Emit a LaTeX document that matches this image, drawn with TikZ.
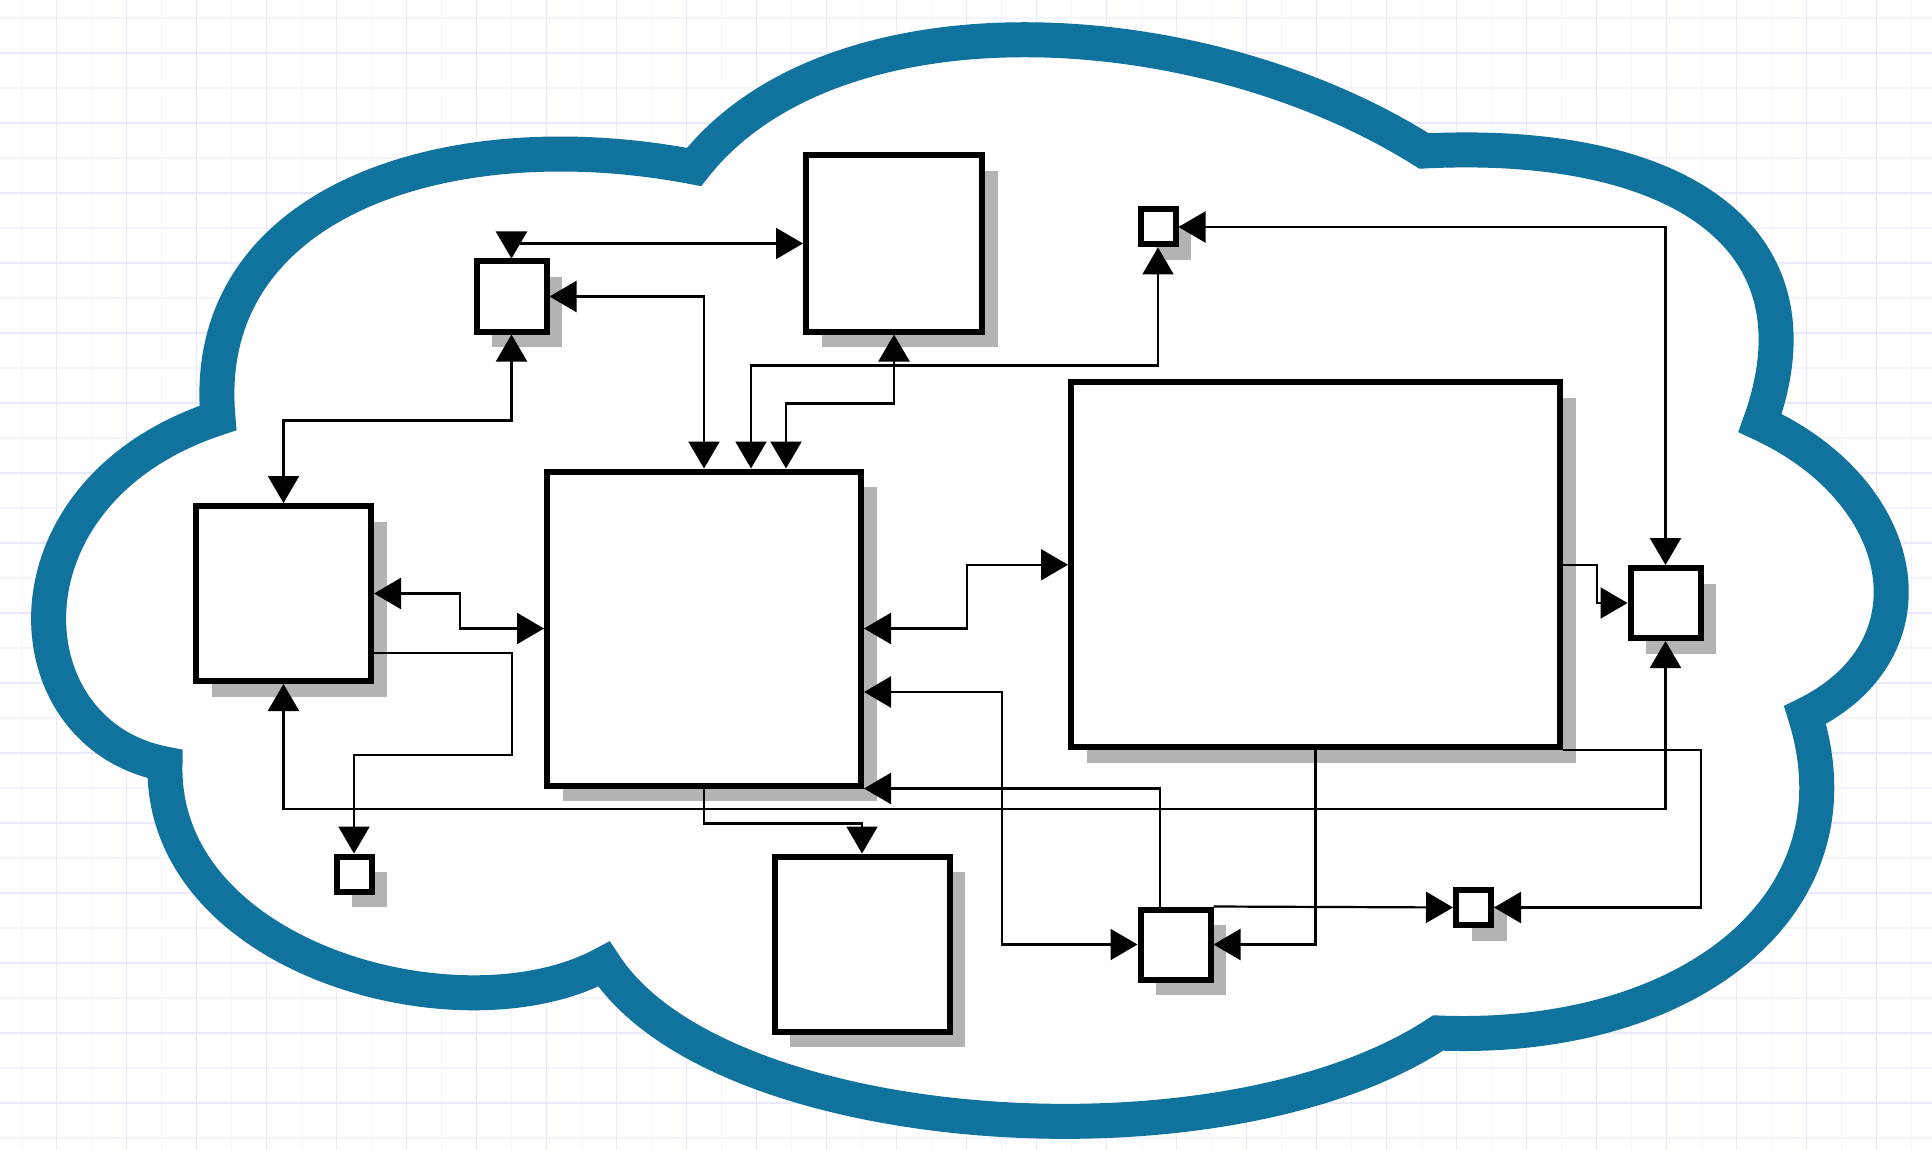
\documentclass[tikz,border=0pt]{standalone}
\usepackage{tikz}
\usetikzlibrary{arrows.meta,shadows}

\definecolor{cloudblue}{HTML}{10739E}
\definecolor{gridminor}{RGB}{244,244,253}
\definecolor{gridmajor}{RGB}{233,233,251}
\definecolor{shadowgray}{HTML}{B3B3B3}

\begin{document}
\begin{tikzpicture}[x=1pt,y=-1pt,
    box/.style={draw, line width=6pt, fill=white, inner sep=0pt,
      drop shadow={shadow xshift=15.5pt, shadow yshift=-15.5pt, fill=shadowgray, opacity=1}},
    link/.style={line width=2.2pt},
    >={Triangle[length=27pt, width=31pt]}]
  \useasboundingbox (0,0) rectangle (1932,1150);
  \fill[white] (0,0) rectangle (1932,1150);

  % background grid
  \foreach \gx in {0,...,27} \draw[gridminor, line width=1.5pt] (21.5+70*\gx,0) -- (21.5+70*\gx,1150);
  \foreach \gy in {0,...,16} \draw[gridminor, line width=1.5pt] (0,18+70*\gy) -- (1932,18+70*\gy);
  \foreach \gx in {0,...,26} \draw[gridmajor, line width=1.5pt] (56.5+70*\gx,0) -- (56.5+70*\gx,1150);
  \foreach \gy in {0,...,15} \draw[gridmajor, line width=1.5pt] (0,53+70*\gy) -- (1932,53+70*\gy);

  % cloud outline, one curve per lobe
  \draw[cloudblue, fill=white, line width=35pt, line join=miter, miter limit=20]
    (218,418) .. controls (198,200) and (450,120) .. (694,167)
    .. controls (833,-10) and (1200.5,10) .. (1424,151)
    .. controls (1674,138.5) and (1828,235) .. (1760,423)
    .. controls (1910,492) and (1940,649) .. (1805,715)
    .. controls (1865,905) and (1688,1043) .. (1438,1033)
    .. controls (1222,1176) and (717,1140) .. (604,964)
    .. controls (463,1041) and (160,960) .. (165,764)
    .. controls (8,734) and (-5,491) .. (218,418)
    -- cycle;

  % boxes
  \node[box, minimum size=70pt] (ulbox) at (511.5,296.5) {};
  \node[box, minimum size=176pt] (topbox) at (894,243.5) {};
  \node[box, minimum size=35pt] (tinyA) at (1158,227) {};
  \node[box, minimum size=175pt] (lbox) at (283.5,593.5) {};
  \node[box, minimum size=314pt] (core) at (704,628.5) {};
  \node[box, minimum width=489pt, minimum height=365pt] (wide) at (1315.5,564.75) {};
  \node[box, minimum size=70pt] (rbox) at (1665.5,603) {};
  \node[box, minimum size=35pt] (tinyB) at (354,874) {};
  \node[box, minimum size=175pt] (botbox) at (862,944) {};
  \node[box, minimum size=70pt] (lowbox) at (1175.5,944.5) {};
  \node[box, minimum size=35pt] (tinyC) at (1473.5,907.5) {};

  % links around the upper boxes
  \draw[link,<->] (ulbox.north) |- (topbox.west);
  \draw[link,<->] (ulbox.east) -| (core.north);
  \draw[link,<->] (ulbox.south) -- ++(0,86) -| (lbox.north);
  \draw[link,<->] (tinyA.south) -- ++(0,118) -| ([xshift=47pt]core.north);
  \draw[link,<->] (topbox.south) -- ++(0,69) -| ([xshift=82pt]core.north);
  \draw[link,<->] (tinyA.east) -| (rbox.north);

  % links on the left
  \draw[link,<->] (lbox.east) -- ++(86,0) |- (core.west);
  \draw[link,->] ([yshift=-59.5pt]lbox.east) -- ++(138,0) -- ++(0,102) -| (tinyB.north);
  \draw[link,<->] (lbox.south) -- ++(0,125) -| (rbox.south);

  % links from the core
  \draw[link,<->] (core.east) -- ++(103,0) |- (wide.west);
  \draw[link,<->] ([yshift=-63.5pt]core.east) -- ++(138,0) |- (lowbox.west);
  \draw[link,->] ([xshift=-15.5pt]lowbox.north) |- (core.south east);
  \draw[link,->] (core.south) -- ++(0,35) -| (botbox.north);

  % links on the right
  \draw[link,->] (wide.east) -- ++(34,0) |- (rbox.west);
  \draw[link,->] (wide.south) |- (lowbox.east);
  \draw[link,->] (wide.south east) -- ++(138,0) |- (tinyC.east);
  \draw[link,->] (lowbox.north east) -- (tinyC.west);

\end{tikzpicture}
\end{document}
